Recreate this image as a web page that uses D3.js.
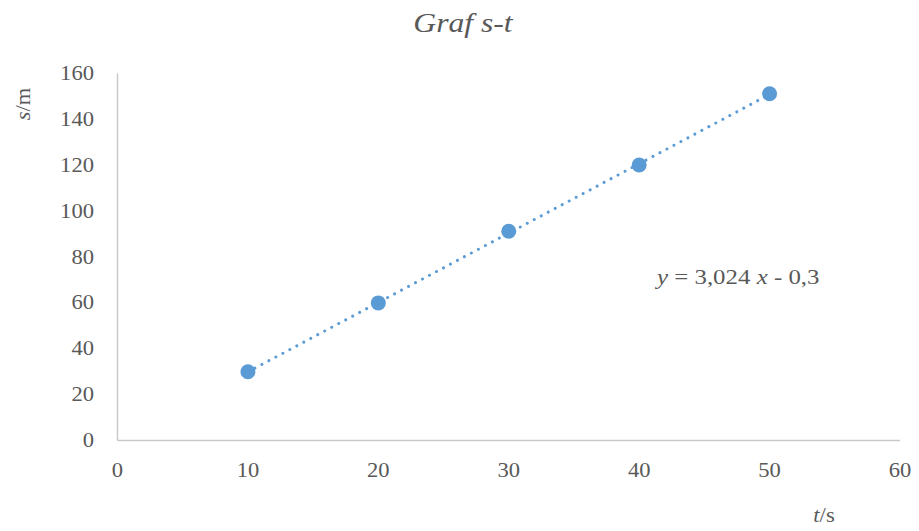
<!DOCTYPE html>
<html><head><meta charset="utf-8">
<script src="https://cdn.jsdelivr.net/npm/d3@7"></script>
<style>body{margin:0;background:#fff}</style>
</head><body>
<svg id="c" width="919" height="531" font-family="Liberation Serif"></svg>
<script>
const tValues = [10, 20, 30, 40, 50];
const sValues = [30, 60, 91.2, 120.1, 151.2];
const xTicks = [0, 10, 20, 30, 40, 50, 60];
const yTicks = [0, 20, 40, 60, 80, 100, 120, 140, 160];
const trendSlope = 3.024;
const trendIntercept = -0.3;
const trendText = "3,024";
const trendText2 = "0,3";

const svg = d3.select("#c");
const grey = "#595959";
const blue = "#5B9BD5";
const sx = 1.13; // horizontal stretch of the reference text

const x = d3.scaleLinear().domain([0, 60]).range([117.5, 900]);
const y = d3.scaleLinear().domain([0, 160]).range([440.5, 73.5]);

const tr = (px, py) => `translate(${px},${py}) scale(${sx},1)`;

svg.append("line").attr("x1", x(0)).attr("x2", x(60)).attr("y1", y(0)).attr("y2", y(0))
  .attr("stroke", "#c9c9c9").attr("stroke-width", 1.5);
svg.append("line").attr("x1", x(0)).attr("x2", x(0)).attr("y1", y(0)).attr("y2", y(160))
  .attr("stroke", "#c9c9c9").attr("stroke-width", 1.5);

svg.append("g").selectAll("text").data(xTicks).join("text")
  .attr("transform", d => tr(x(d), 477)).attr("text-anchor", "middle")
  .attr("font-size", 20).attr("fill", grey).text(d => d);
svg.append("g").selectAll("text").data(yTicks).join("text")
  .attr("transform", d => tr(94, y(d) + 6.5)).attr("text-anchor", "end")
  .attr("font-size", 20).attr("fill", grey).text(d => d);

svg.append("text").attr("transform", tr(463, 32)).attr("text-anchor", "middle")
  .attr("font-size", 28).attr("font-style", "italic")
  .attr("fill", grey).text("Graf s-t");

const yl = svg.append("text").attr("transform", `translate(30,104) rotate(-90) scale(${sx},1)`)
  .attr("text-anchor", "middle").attr("font-size", 20).attr("fill", grey);
yl.append("tspan").attr("font-style", "italic").text("s");
yl.append("tspan").text("/m");
const xl = svg.append("text").attr("transform", tr(824, 522))
  .attr("text-anchor", "middle").attr("font-size", 20).attr("fill", grey);
xl.append("tspan").attr("font-style", "italic").text("t");
xl.append("tspan").text("/s");

const tx = d3.extent(tValues);
svg.append("line")
  .attr("x1", x(tx[0])).attr("y1", y(trendSlope * tx[0] + trendIntercept))
  .attr("x2", x(tx[1])).attr("y2", y(trendSlope * tx[1] + trendIntercept))
  .attr("stroke", blue).attr("stroke-width", 3).attr("stroke-linecap", "round")
  .attr("stroke-dasharray", "0.01 7.9");

svg.append("g").selectAll("circle").data(tValues).join("circle")
  .attr("cx", d => x(d)).attr("cy", (d, i) => y(sValues[i])).attr("r", 7.5)
  .attr("fill", blue);

const eq = svg.append("text").attr("transform", tr(657, 284))
  .attr("font-size", 22).attr("fill", grey);
eq.append("tspan").attr("font-style", "italic").text("y");
eq.append("tspan").text(" = " + trendText + " ");
eq.append("tspan").attr("font-style", "italic").text("x");
eq.append("tspan").text(" - " + trendText2);
</script>
</body></html>
